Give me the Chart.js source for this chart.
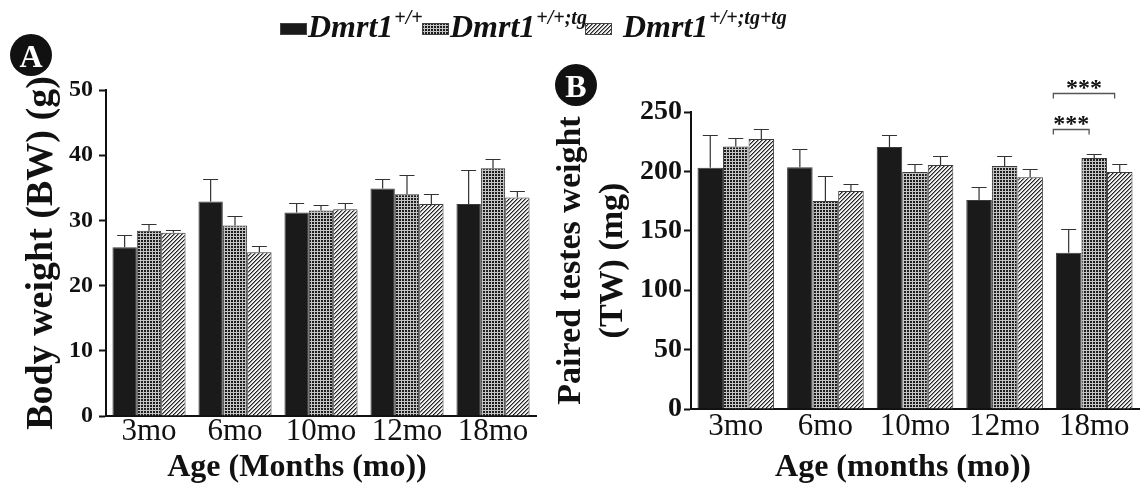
<!DOCTYPE html>
<html>
<head>
<meta charset="utf-8">
<script src="https://cdn.jsdelivr.net/npm/chart.js@4.4.0/dist/chart.umd.min.js"></script>
<style>
  html, body { margin: 0; padding: 0; background: #fff; }
  body { width: 1144px; height: 489px; position: relative; overflow: hidden; font-family: 'Liberation Serif', 'Times New Roman', serif; color: #111; }
  #cA { position: absolute; left: 0; top: 0; }
  #cB { position: absolute; left: 550px; top: 0; }
  .badge { position: absolute; width: 42px; height: 42px; border-radius: 50%; background: #111; color: #fff;
           font: bold 32px 'Liberation Serif', serif; text-align: center; line-height: 44px; }
  .sw { position: absolute; top: 23px; width: 27px; height: 12px; }
  .lab { position: absolute; top: 10px; font: italic bold 32px 'Liberation Serif', serif; line-height: 32px; white-space: nowrap; }
  .lab sup { font-size: 20px; vertical-align: baseline; position: relative; top: -13px; margin-left: 1px; }
</style>
</head>
<body>
<canvas id="cA" width="550" height="489"></canvas>
<canvas id="cB" width="594" height="489"></canvas>

<div class="badge" style="left:10px;top:34px;">A</div>
<div class="badge" style="left:555px;top:64px;">B</div>

<canvas class="sw" id="sw0" width="27" height="12" style="left:280px"></canvas>
<div class="lab" style="left:308px">Dmrt1<sup>+/+</sup></div>
<canvas class="sw" id="sw1" width="27" height="12" style="left:422px"></canvas>
<div class="lab" style="left:450px">Dmrt1<sup>+/+;tg</sup></div>
<canvas class="sw" id="sw2" width="27" height="12" style="left:585px"></canvas>
<div class="lab" style="left:623px">Dmrt1<sup>+/+;tg+tg</sup></div>

<script>
// categories
const ageLabels = ['3mo', '6mo', '10mo', '12mo', '18mo'];

// A: body weight (g), mean and upper error
const bwWT     = [25.9, 32.9, 31.2, 34.9, 32.5];
const bwWTErr  = [1.9, 3.4, 1.5, 1.4, 5.2];
const bwTg     = [28.4, 29.2, 31.5, 34.0, 38.0];
const bwTgErr  = [1.0, 1.4, 0.8, 2.9, 1.4];
const bwTg2    = [28.1, 25.1, 31.7, 32.5, 33.5];
const bwTg2Err = [0.5, 0.9, 0.9, 1.6, 1.0];

// B: paired testes weight (mg)
const twWT     = [203.0, 203.5, 220.5, 176.0, 131.5];
const twWTErr  = [27.3, 15.6, 10.1, 10.6, 19.7];
const twTg     = [221.0, 175.0, 199.5, 204.5, 211.3];
const twTgErr  = [7.1, 21.0, 6.4, 8.1, 3.6];
const twTg2    = [227.3, 183.5, 205.4, 195.0, 199.5];
const twTg2Err = [8.1, 6.1, 7.6, 6.7, 6.5];

// significance marks on panel B (dataset index from/to, category, level in mg)
const sigMarks = [
  { cat: 4, from: 0, to: 1, level: 236, text: '***' },
  { cat: 4, from: 0, to: 2, level: 266, text: '***' }
];

const SERIF = "'Liberation Serif', 'Times New Roman', serif";

function makeChecker() {
  const c = document.createElement('canvas');
  c.width = 3; c.height = 3;
  const x = c.getContext('2d');
  x.fillStyle = '#c4c4c4'; x.fillRect(0, 0, 3, 3);
  x.fillStyle = '#1e1e1e'; x.fillRect(0, 0, 2, 2);
  return c;
}
function makeHatch() {
  const c = document.createElement('canvas');
  c.width = 4; c.height = 4;
  const x = c.getContext('2d');
  x.fillStyle = '#f0f0f0'; x.fillRect(0, 0, 4, 4);
  for (let i = 0; i < 4; i++) {
    x.fillStyle = '#222'; x.fillRect(i, 3 - i, 1, 1);
    x.fillStyle = '#8a8a8a'; x.fillRect(i, (4 - i) % 4, 1, 1);
  }
  return c;
}

const tileChecker = makeChecker();
const tileHatch = makeHatch();
function fillsFor(ctx) {
  return ['#1a1a1a', ctx.createPattern(tileChecker, 'repeat'), ctx.createPattern(tileHatch, 'repeat')];
}

// legend swatches
['sw0', 'sw1', 'sw2'].forEach((id, i) => {
  const c = document.getElementById(id);
  const ctx = c.getContext('2d');
  ctx.fillStyle = fillsFor(ctx)[i];
  ctx.fillRect(0, 0, c.width, c.height);
  ctx.strokeStyle = '#444';
  ctx.lineWidth = 1;
  ctx.strokeRect(0.5, 0.5, c.width - 1, c.height - 1);
});

const errorBars = {
  id: 'errorBars',
  afterDatasetsDraw(chart) {
    const ctx = chart.ctx;
    const y = chart.scales.y;
    ctx.save();
    ctx.strokeStyle = '#333';
    ctx.lineWidth = 1.2;
    chart.data.datasets.forEach((ds, di) => {
      chart.getDatasetMeta(di).data.forEach((bar, i) => {
        const top = Math.round(y.getPixelForValue(ds.data[i] + ds.errors[i])) + 0.5;
        ctx.beginPath();
        ctx.moveTo(bar.x, bar.y);
        ctx.lineTo(bar.x, top);
        ctx.moveTo(bar.x - 7.5, top);
        ctx.lineTo(bar.x + 7.5, top);
        ctx.stroke();
      });
    });
    ctx.restore();
  }
};

const sigBrackets = {
  id: 'sigBrackets',
  afterDatasetsDraw(chart) {
    const ctx = chart.ctx;
    const y = chart.scales.y;
    ctx.save();
    sigMarks.forEach(m => {
      const a = chart.getDatasetMeta(m.from).data[m.cat];
      const b = chart.getDatasetMeta(m.to).data[m.cat];
      const x1 = a.x - 0.6 * a.width;
      const x2 = b.x - 0.2 * b.width;
      const yy = Math.round(y.getPixelForValue(m.level)) + 0.5;
      ctx.strokeStyle = '#555';
      ctx.lineWidth = 1.3;
      ctx.beginPath();
      ctx.moveTo(x1, yy + 5); ctx.lineTo(x1, yy); ctx.lineTo(x2, yy); ctx.lineTo(x2, yy + 5);
      ctx.stroke();
      ctx.fillStyle = '#111';
      ctx.font = 'bold 24px ' + SERIF;
      ctx.textAlign = 'center';
      ctx.textBaseline = 'alphabetic';
      ctx.fillText(m.text, (x1 + x2) / 2, yy + 1);
    });
    ctx.restore();
  }
};

function barChart(id, cfg) {
  const canvas = document.getElementById(id);
  const fills = fillsFor(canvas.getContext('2d'));
  return new Chart(canvas, {
    type: 'bar',
    data: {
      labels: ageLabels,
      datasets: cfg.values.map((v, i) => ({
        data: v,
        errors: cfg.errors[i],
        backgroundColor: fills[i],
        borderColor: '#3a3a3a',
        borderWidth: 1,
        categoryPercentage: cfg.catPct,
        barPercentage: 1
      }))
    },
    options: {
      responsive: false,
      animation: false,
      layout: { padding: cfg.padding },
      plugins: { legend: { display: false }, tooltip: { enabled: false } },
      scales: {
        x: {
          grid: { display: false, drawTicks: false },
          border: { color: '#111', width: 2 },
          ticks: { color: '#111', font: { family: SERIF, size: 31, lineHeight: 1 }, padding: cfg.xPad, maxRotation: 0, autoSkip: false },
          // trailing spaces nudge the centred title a little left, as in the figure
          title: { display: true, text: cfg.xTitle, color: '#111',
                   font: { family: SERIF, size: 32, weight: 'bold', lineHeight: 1 }, padding: { top: 0, bottom: 5 } },
          afterFit(s) { s.height = cfg.xH; }
        },
        y: {
          min: 0, max: cfg.max,
          ticks: { stepSize: cfg.step, color: '#111', padding: cfg.yPad,
                   font: { family: SERIF, size: cfg.yTickSize, weight: 'bold', lineHeight: 1 } },
          grid: { drawOnChartArea: false, drawTicks: true, tickLength: 7, tickWidth: 2, tickColor: '#111' },
          border: { color: '#111', width: 2 },
          title: { display: true, text: cfg.yTitle, color: '#111',
                   font: { family: SERIF, size: cfg.yTitleSize, weight: 'bold', lineHeight: cfg.yTitleLH },
                   padding: { top: cfg.yTitlePad, bottom: 0 } },
          afterFit(s) { s.width = cfg.yW; }
        }
      }
    },
    plugins: cfg.plugins
  });
}

barChart('cA', {
  values: [bwWT, bwTg, bwTg2],
  errors: [bwWTErr, bwTgErr, bwTg2Err],
  catPct: 0.85,
  padding: { top: 90, right: 14, bottom: 0, left: 0 },
  xH: 73, xPad: 0,
  xTitle: 'Age (Months (mo))      ',
  max: 50, step: 10, yTickSize: 24, yPad: 6,
  yTitle: 'Body weight (BW) (g)', yTitleSize: 38, yTitleLH: 1, yTitlePad: 23,
  yW: 106,
  plugins: [errorBars]
});

barChart('cB', {
  values: [twWT, twTg, twTg2],
  errors: [twWTErr, twTgErr, twTg2Err],
  catPct: 0.855,
  padding: { top: 112, right: 5, bottom: 0, left: 0 },
  xH: 80, xPad: 2,
  xTitle: 'Age (months (mo))   ',
  max: 250, step: 50, yTickSize: 28, yPad: 2,
  yTitle: ['Paired testes weight', '(TW) (mg)'], yTitleSize: 34, yTitleLH: 1.24, yTitlePad: 0,
  yW: 141,
  plugins: [errorBars, sigBrackets]
});
</script>
</body>
</html>
